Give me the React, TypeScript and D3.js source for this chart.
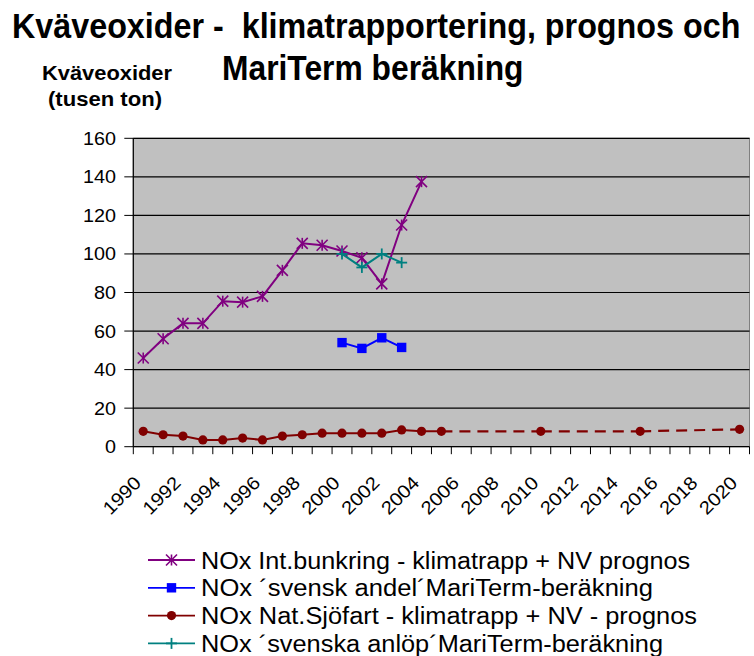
import React from "react";
import * as d3 from "d3";

const categories = ["1990","1991","1992","1993","1994","1995","1996","1997","1998","1999","2000","2001","2002","2003","2004","2005","2006","2007","2008","2009","2010","2011","2012","2013","2014","2015","2016","2017","2018","2019","2020"];
const yTicks = [0, 20, 40, 60, 80, 100, 120, 140, 160];

const intBunkringYears = ["1990","1991","1992","1993","1994","1995","1996","1997","1998","1999","2000","2001","2002","2003","2004"];
const intBunkringValues = [46, 56, 64, 64, 75.5, 75, 78, 91.5, 105.5, 104.5, 101.5, 98, 84.5, 115, 137.5];

const svenskAndelYears = ["2000","2001","2002","2003"];
const svenskAndelValues = [54, 51, 56.5, 51.5];

const natSjofartYears = ["1990","1991","1992","1993","1994","1995","1996","1997","1998","1999","2000","2001","2002","2003","2004","2005"];
const natSjofartValues = [8, 6.2, 5.5, 3.5, 3.5, 4.5, 3.5, 5.5, 6.2, 7, 7, 7, 7, 8.7, 8, 8];
const natPrognosYears = ["2005","2010","2015","2020"];
const natPrognosValues = [8, 8, 8, 9];

const anlopYears = ["2000","2001","2002","2003"];
const anlopValues = [100, 93, 100, 95.5];

const legendLabels = [
  "NOx Int.bunkring - klimatrapp + NV prognos",
  "NOx \u00B4svensk andel\u00B4MariTerm-ber\u00E4kning",
  "NOx Nat.Sj\u00F6fart - klimatrapp + NV - prognos",
  "NOx \u00B4svenska anl\u00F6p\u00B4MariTerm-ber\u00E4kning",
];

const PURPLE = "#800080";
const BLUE = "#0000FF";
const DARKRED = "#800000";
const TEAL = "#008080";
const FONT = "'Liberation Sans', Arial, sans-serif";

const W = 754, H = 656;
const plot = { left: 133.3, right: 749.5, top: 138.3, bottom: 446.7 };

function Asterisk({ x, y, c, s = 5.5 }: any) {
  return (
    <g stroke={c} strokeWidth={1.6}>
      <line x1={x - s} y1={y - s} x2={x + s} y2={y + s} />
      <line x1={x - s} y1={y + s} x2={x + s} y2={y - s} />
      <line x1={x} y1={y - s} x2={x} y2={y + s} />
    </g>
  );
}
function Plus({ x, y, c, s = 5.5 }: any) {
  return (
    <g stroke={c} strokeWidth={1.8}>
      <line x1={x - s} y1={y} x2={x + s} y2={y} />
      <line x1={x} y1={y - s} x2={x} y2={y + s} />
    </g>
  );
}
function Square({ x, y, c, s = 4.7 }: any) {
  return <rect x={x - s} y={y - s} width={2 * s} height={2 * s} fill={c} />;
}
function Dot({ x, y, c, r = 4.6 }: any) {
  return <circle cx={x} cy={y} r={r} fill={c} />;
}

export default function App() {
  const x = d3.scaleBand().domain(categories).range([plot.left, plot.right]).padding(0);
  const cx = (c: string) => (x(c) as number) + x.bandwidth() / 2;
  const y = d3.scaleLinear().domain([0, 160]).range([plot.bottom, plot.top]);
  const line = d3.line<[string, number]>().x((d) => cx(d[0])).y((d) => y(d[1]));

  const zip = (a: string[], b: number[]) => a.map((k, i) => [k, b[i]] as [string, number]);
  const purple = zip(intBunkringYears, intBunkringValues);
  const blue = zip(svenskAndelYears, svenskAndelValues);
  const red = zip(natSjofartYears, natSjofartValues);
  const redP = zip(natPrognosYears, natPrognosValues);
  const teal = zip(anlopYears, anlopValues);

  const boundaries = categories.map((c) => x(c) as number).concat([plot.right]);

  const legendRows = [
    { c: PURPLE, m: "ast", len: 489 },
    { c: BLUE, m: "sq", len: 452 },
    { c: DARKRED, m: "dot", len: 496 },
    { c: TEAL, m: "plus", len: 462 },
  ];

  return (
    <svg width={W} height={H} style={{ position: "absolute", left: 0, top: 0, background: "#fff" }} fontFamily={FONT}>
      <rect x={0} y={0} width={W} height={H} fill="#fff" />
      {/* Title */}
      <g transform="translate(12,38) scale(1,1.1)">
        <text x={0} y={0} fontSize={32.3} fontWeight="bold" style={{ whiteSpace: "pre" }}>
          {"Kväveoxider -  klimatrapportering, prognos och"}
        </text>
      </g>
      <g transform="translate(222,80) scale(1,1.12)">
        <text x={0} y={0} fontSize={31.8} fontWeight="bold">MariTerm beräkning</text>
      </g>
      {/* Y axis title */}
      <text x={42} y={80} fontSize={20} fontWeight="bold" textLength={130} lengthAdjust="spacingAndGlyphs">Kväveoxider</text>
      <text x={48} y={106} fontSize={20} fontWeight="bold" textLength={114} lengthAdjust="spacingAndGlyphs">(tusen ton)</text>

      {/* plot area */}
      <rect x={plot.left} y={plot.top} width={plot.right - plot.left} height={plot.bottom - plot.top} fill="#C0C0C0" stroke="#808080" strokeWidth={1} />
      {yTicks.map((t) => (
        <g key={t}>
          {t > 0 && <line x1={plot.left} x2={plot.right} y1={y(t)} y2={y(t)} stroke="#000" strokeWidth={1.2} />}
          <line x1={plot.left - 9} x2={plot.left} y1={y(t)} y2={y(t)} stroke="#000" strokeWidth={1} />
          <text x={116} y={y(t) + 6.5} fontSize={18.5} textAnchor="end" textLength={String(t).length * 11} lengthAdjust="spacingAndGlyphs">{t}</text>
        </g>
      ))}
      <line x1={plot.left} x2={plot.left} y1={plot.top} y2={plot.bottom} stroke="#000" strokeWidth={1.2} />
      <line x1={plot.left} x2={plot.right} y1={plot.bottom} y2={plot.bottom} stroke="#000" strokeWidth={1.2} />
      {boundaries.map((b, i) => (
        <line key={i} x1={b} x2={b} y1={plot.bottom} y2={plot.bottom + 7.5} stroke="#000" strokeWidth={1} />
      ))}
      {categories.filter((_, i) => i % 2 === 0).map((c) => {
        const ax = cx(c) - 1, ay = 484;
        return (
          <text key={c} x={ax} y={ay} fontSize={18.5} textAnchor="end" transform={`rotate(-45 ${ax} ${ay})`} textLength={45} lengthAdjust="spacingAndGlyphs">{c}</text>
        );
      })}

      {/* series */}
      <path d={line(red) || ""} fill="none" stroke={DARKRED} strokeWidth={2} />
      {redP.slice(0, -1).map((p, i) => (
        <path key={i} d={line([p, redP[i + 1]]) || ""} fill="none" stroke={DARKRED} strokeWidth={2.2} strokeDasharray="11,7" />
      ))}
      {red.map((d, i) => <Dot key={i} x={cx(d[0])} y={y(d[1])} c={DARKRED} />)}
      {redP.slice(1).map((d, i) => <Dot key={i} x={cx(d[0])} y={y(d[1])} c={DARKRED} />)}

      <path d={line(purple) || ""} fill="none" stroke={PURPLE} strokeWidth={2} />
      {purple.map((d, i) => <Asterisk key={i} x={cx(d[0])} y={y(d[1])} c={PURPLE} />)}

      <path d={line(blue) || ""} fill="none" stroke={BLUE} strokeWidth={2} />
      {blue.map((d, i) => <Square key={i} x={cx(d[0])} y={y(d[1])} c={BLUE} />)}

      <path d={line(teal) || ""} fill="none" stroke={TEAL} strokeWidth={2} />
      {teal.map((d, i) => <Plus key={i} x={cx(d[0])} y={y(d[1])} c={TEAL} />)}

      {/* legend */}
      {legendRows.map((r, i) => {
        const ly = 560 + i * 27.8;
        return (
          <g key={i}>
            <line x1={148} x2={195} y1={ly} y2={ly} stroke={r.c} strokeWidth={1.8} />
            {r.m === "ast" && <Asterisk x={171.5} y={ly} c={r.c} />}
            {r.m === "sq" && <Square x={171.5} y={ly} c={r.c} />}
            {r.m === "dot" && <Dot x={171.5} y={ly} c={r.c} />}
            {r.m === "plus" && <Plus x={171.5} y={ly} c={r.c} />}
            <text x={201} y={ly + 8.5} fontSize={23.5} textLength={r.len} lengthAdjust="spacingAndGlyphs">{legendLabels[i]}</text>
          </g>
        );
      })}
    </svg>
  );
}
